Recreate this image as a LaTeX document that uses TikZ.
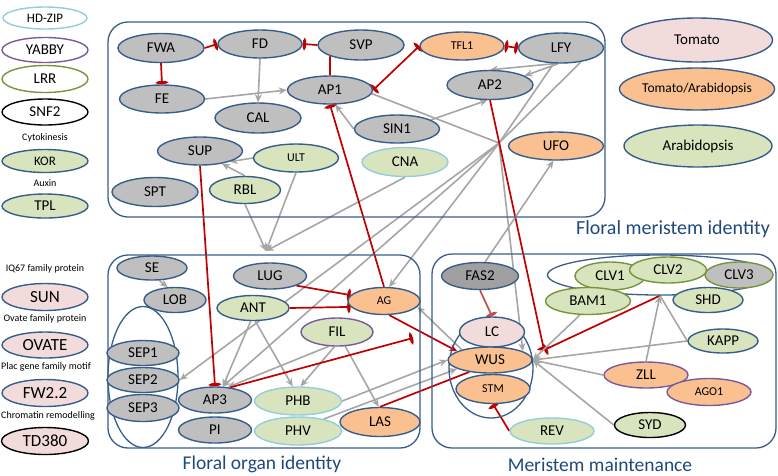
\documentclass[tikz,border=0pt]{standalone}
\usepackage{fontspec}
\setmainfont{Carlito}
\usepackage{xcolor}
\usepackage{tikz}
\usetikzlibrary{arrows.meta,shapes.geometric,backgrounds}
\definecolor{edgeBlue}{HTML}{385D8A}
\definecolor{titleBlue}{HTML}{1F497D}
\definecolor{geneGray}{HTML}{BFBFBF}
\definecolor{darkGray}{HTML}{A0A0A0}
\definecolor{tomPink}{HTML}{F2DCDB}
\definecolor{bothOrange}{HTML}{FAC090}
\definecolor{arabGreen}{HTML}{D7E4BD}
\definecolor{hdBlue}{HTML}{93CDDD}
\definecolor{yabPurple}{HTML}{7A5A9A}
\definecolor{lrrGreen}{HTML}{77933C}
\definecolor{linkGray}{HTML}{A6A6A6}
\definecolor{inhRed}{HTML}{C00000}
\definecolor{softRed}{HTML}{C0504D}

\begin{document}
\begin{tikzpicture}[x=1pt,y=-1pt,
  gene/.style={ellipse,draw=edgeBlue,line width=1.4pt,fill=geneGray,inner sep=0pt,font=\fontsize{15}{15}\selectfont},
  sz/.style 2 args={minimum width=#1,minimum height=#2},
  tomato/.style={fill=tomPink},
  tomarab/.style={fill=bothOrange},
  arabi/.style={fill=arabGreen},
  hdzip/.style={draw=hdBlue},
  yabby/.style={draw=yabPurple},
  lrr/.style={draw=lrrGreen},
  snf/.style={draw=black},
  smallfont/.style={font=\fontsize{12}{12}\selectfont},
  legnote/.style={inner sep=0pt,font=\fontsize{10}{10}\selectfont},
  panel/.style={draw=edgeBlue,line width=1.3pt,rounded corners=20pt},
  grp/.style={ellipse,draw=edgeBlue,line width=1.3pt,inner sep=0pt},
  boxtitle/.style={text=titleBlue,inner sep=0pt,font=\fontsize{19.5}{19.5}\selectfont},
  act/.style={draw=linkGray,line width=1.6pt,-{Stealth[length=8pt,width=7pt]}},
  link/.style={draw=linkGray,line width=1.6pt},
  inh/.style={draw=inhRed,line width=1.7pt,arrows={-Ellipse[length=3.5pt,width=11pt]}},
  inhtwo/.style={draw=inhRed,line width=1.7pt,arrows={Ellipse[length=3.5pt,width=11pt]-Ellipse[length=3.5pt,width=11pt]}},
  inhline/.style={draw=inhRed,line width=1.7pt},
  actred/.style={draw=inhRed,line width=1.7pt,-{Stealth[length=8pt,width=7pt]}}]
\useasboundingbox (0,0) rectangle (778,475);

% 1) legend (families, left)
\node[gene,hdzip,fill=white,sz={84}{22},font=\fontsize{13}{13}\selectfont] (hdzipL) at (45,18) {HD-ZIP};
\node[gene,yabby,fill=white,sz={86}{25}] (yabbyL) at (45,50) {YABBY};
\node[gene,lrr,fill=white,sz={86}{27}] (lrrL) at (45,79) {LRR};
\node[gene,snf,fill=white,sz={86}{26}] (snfL) at (45,112) {SNF2};
\node[legnote] (korN) at (45,138) {Cytokinesis};
\node[gene,arabi,sz={86}{23},font=\fontsize{13}{13}\selectfont] (korL) at (45,161) {KOR};
\node[legnote] (tplN) at (45,183) {Auxin};
\node[gene,arabi,sz={86}{24}] (tplL) at (45,206) {TPL};
\node[legnote] (sunN) at (45,269) {IQ67 family protein};
\node[gene,tomato,sz={86}{27},font=\fontsize{17}{17}\selectfont] (sunL) at (45,297) {SUN};
\node[legnote] (ovateN) at (45,319) {Ovate family protein};
\node[gene,tomato,sz={86}{26},font=\fontsize{17}{17}\selectfont] (ovateL) at (45,345) {OVATE};
\node[legnote] (fwN) at (46,367) {Plac gene family motif};
\node[gene,tomato,sz={86}{27},font=\fontsize{17}{17}\selectfont] (fwL) at (45,393) {FW2.2};
\node[legnote] (tdN) at (48,416) {Chromatin remodelling};
\node[gene,tomato,snf,sz={87}{27},font=\fontsize{17}{17}\selectfont] (tdL) at (45,441) {TD380};

% 2) legend (species, right)
\node[gene,tomato,sz={151}{44}] (tomatoL) at (697,40) {Tomato};
\node[gene,tomarab,sz={151}{42},font=\fontsize{13.5}{13.5}\selectfont] (bothL) at (697,89) {Tomato/Arabidopsis};
\node[gene,arabi,sz={148}{42}] (arabL) at (698,146) {Arabidopsis};

% 3) panels
\draw[panel] (108,22) rectangle (605,217);
\draw[panel] (108,255) rectangle (420,448);
\draw[panel] (432,254) rectangle (776,448);
\node[boxtitle,font=\fontsize{20}{20}\selectfont] (fmiT) at (673,229) {Floral meristem identity};
\node[boxtitle] (foiT) at (262,464) {Floral organ identity};
\node[boxtitle] (mmT) at (600,465) {Meristem maintenance};

% 4) floral meristem identity
\node[gene,sz={86}{29}] (FWA) at (161,48) {FWA};
\node[gene,sz={84}{28}] (FD) at (260,44) {FD};
\node[gene,sz={86}{30}] (SVP) at (361,45) {SVP};
\node[gene,tomarab,sz={84}{28},smallfont] (TFL1) at (462,46) {TFL1};
\node[gene,sz={85}{30}] (LFY) at (561,48) {LFY};
\node[gene,sz={85}{28}] (FE) at (162,99) {FE};
\node[gene,sz={85}{28}] (AP1) at (330,90) {AP1};
\node[gene,sz={86}{29}] (AP2) at (490,85) {AP2};
\node[gene,sz={86}{30}] (CAL) at (258,118) {CAL};
\node[gene,sz={85}{28}] (SIN1) at (397,129) {SIN1};
\node[gene,tomarab,sz={95}{28}] (UFO) at (556,146) {UFO};
\node[gene,sz={85}{28}] (SUP) at (200,151) {SUP};
\node[gene,arabi,sz={85}{28},smallfont] (ULT) at (296,158) {ULT};
\node[gene,hdzip,arabi,sz={86}{29}] (CNA) at (405,162) {CNA};
\node[gene,sz={86}{29}] (SPT) at (155,192) {SPT};
\node[gene,arabi,sz={71}{27}] (RBL) at (245,190) {RBL};

% 5) floral organ identity
\node[grp,sz={70}{141}] (sepGrp) at (143,377) {};
\node[gene,sz={70}{24}] (SE) at (152,268) {SE};
\node[gene,sz={62}{25}] (LOB) at (175,300) {LOB};
\node[gene,sz={72}{25}] (SEP1) at (143,353) {SEP1};
\node[gene,sz={72}{27}] (SEP3) at (143,408) {SEP3};
\node[gene,sz={72}{25}] (SEP2) at (143,380) {SEP2};
\node[gene,sz={73}{26}] (LUG) at (270,276) {LUG};
\node[gene,arabi,sz={72}{25}] (ANT) at (253,308) {ANT};
\node[gene,tomarab,sz={72}{27},smallfont] (AG) at (384,301) {AG};
\node[gene,yabby,arabi,sz={72}{28}] (FIL) at (337,332) {FIL};
\node[gene,sz={73}{26}] (AP3) at (215,400) {AP3};
\node[gene,sz={73}{26}] (PI) at (215,430) {PI};
\node[gene,hdzip,arabi,sz={87}{28}] (PHB) at (298,401) {PHB};
\node[gene,hdzip,arabi,sz={87}{28}] (PHV) at (298,431) {PHV};
\node[gene,tomarab,sz={80}{29}] (LAS) at (380,422) {LAS};

% 6) meristem maintenance
\node[grp,sz={84}{100}] (wusGrp) at (491,368) {};
\node[grp,sz={225}{40}] (clvGrp) at (660,275) {};
\node[gene,fill=darkGray,sz={77}{27}] (FAS2) at (480,276) {FAS2};
\node[gene,tomato,sz={65}{30}] (LC) at (492,332) {LC};
\node[gene,tomarab,sz={74}{29},smallfont] (STM) at (493,389) {STM};
\node[gene,tomarab,sz={84}{26}] (WUS) at (490,360) {WUS};
\node[gene,hdzip,arabi,sz={84}{26}] (REV) at (552,431) {REV};
\node[gene,lrr,arabi,sz={70}{28}] (CLV1) at (610,276) {CLV1};
\node[gene,lrr,sz={68}{26}] (CLV3) at (739,275) {CLV3};
\node[gene,lrr,arabi,sz={77}{26}] (CLV2) at (668,270) {CLV2};
\node[gene,lrr,arabi,sz={85}{27}] (BAM1) at (588,301) {BAM1};
\node[gene,arabi,sz={70}{25}] (SHD) at (708,300) {SHD};
\node[gene,arabi,sz={70}{24}] (KAPP) at (723,341) {KAPP};
\node[gene,yabby,tomarab,sz={84}{26}] (ZLL) at (646,375) {ZLL};
\node[gene,yabby,tomarab,sz={84}{27},smallfont] (AGO1) at (709,392) {AGO1};
\node[gene,snf,arabi,sz={71}{25}] (SYD) at (650,425) {SYD};

\coordinate (hub) at (499,143);
\coordinate (lugIn) at (266,251);
\coordinate (redIn) at (544,350);
\coordinate (ap3Tip) at (413,338);

\begin{scope}[on background layer]
% top panel links
\draw[inh] (FWA.east) -- (FD.west);
\draw[inh] (SVP.west) -- (FD.east);
\draw[inh] (FWA.south) -- (FE.north);
\draw[inhline] (SVP.south west) -- (AP1.north);
\draw[inhtwo] (AP1.east) -- (TFL1.west);
\draw[inhtwo] (TFL1.east) -- (LFY.west);
\draw[act] (FD.south) -- (CAL.north);
\draw[act] (FE.east) -- (AP1.west);
\draw[act] (SIN1.west) -- (AP1.-70);
\draw[act] (ULT.west) -- (SUP.-20);
\draw[act] (RBL.north) -- (SUP.-30);
\draw[act] (LFY.-110) -- (AP2.north);
\draw[act] (LFY.-100) -- (AP2.15);
\draw[act] (SIN1.15) -- (AP2.-100);
\draw[link] (AP1.-5) -- (hub);
\draw[link] (LFY.-115) -- (hub);
\draw[link] (LFY.-35) -- (hub);
\draw[act] (hub) -- (AG.70);
\draw[act] (hub) -- (AP3.60);
\draw[act] (hub) -- (SEP2.east);
\draw[act] (hub) -- (WUS.15);
\draw[act] (RBL.south) -- (lugIn);
\draw[act] (ULT.south) -- (lugIn);
\draw[act] (CNA.south) -- (lugIn);
\draw[inh] (SUP.south) -- (AP3.north);
\draw[inh] (AG.north) -- (AP1.south);
\draw[inh] (AP2.south) -- (redIn);
\draw[act] (FAS2.70) -- (UFO.-100);
% organ panel links
\draw[act] (SE.-60) -- (LOB.120);
\draw[inh] (LUG.-20) -- (AG.170);
\draw[inh] (ANT.east) -- (AG.190);
\draw[act] (ANT.-100) -- (AP3.60);
\draw[act] (ANT.-80) -- (PHB.110);
\draw[act] (FIL.-120) -- (AP3.45);
\draw[act] (FIL.-100) -- (PHB.80);
\draw[act] (FIL.-60) -- (LAS.95);
\draw[inh] (AP3.40) -- (ap3Tip);
\draw[act] (PHB.east) -- (WUS.west);
\draw[act] (PHV.25) -- (WUS.195);
\draw[actred] (AG.-70) -- (WUS.165);
\draw[inhline] (LAS.north) -- (WUS.-150);
\draw[act] (WUS.160) -- (AG.-10);
% meristem panel links
\draw[inh,draw=softRed] (FAS2.south) -- (LC.north);
\draw[inh] (REV.west) -- (STM.south);
\draw[inh] (clvGrp.south) -- (redIn);
\draw[act] (BAM1.-120) -- (WUS.east);
\draw[act] (KAPP.west) -- (WUS.east);
\draw[link] (KAPP.west) -- (clvGrp.south);
\draw[act] (ZLL.north) -- (clvGrp.south);
\draw[act] (ZLL.west) -- (WUS.east);
\draw[act] (SYD.west) -- (WUS.east);
\end{scope}
\end{tikzpicture}
\end{document}
